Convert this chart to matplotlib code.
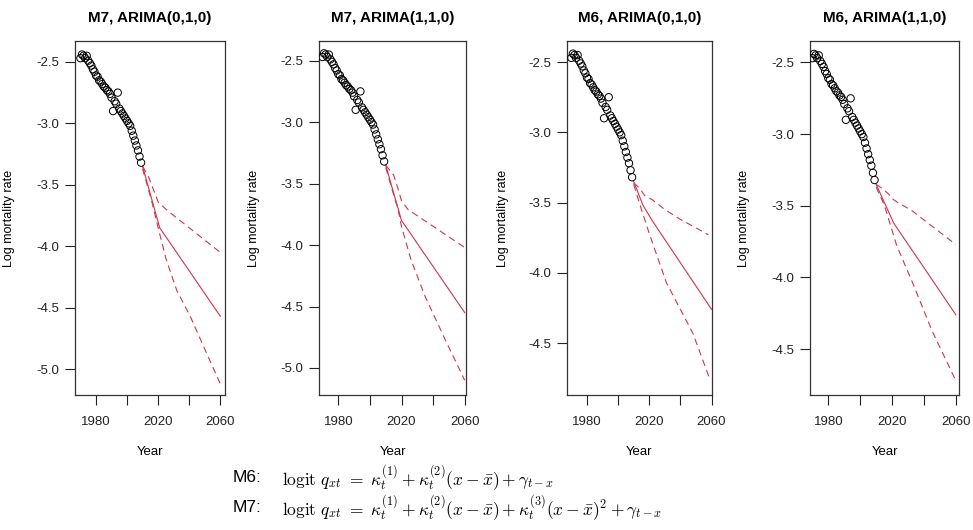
import matplotlib
matplotlib.use("Agg")
import matplotlib.pyplot as plt

# observed log mortality rates
obs_years = list(range(1970, 2010))
obs_rates = [-2.47, -2.44, -2.45, -2.47, -2.45, -2.49, -2.51, -2.53, -2.56, -2.58,
             -2.61, -2.62, -2.65, -2.66, -2.68, -2.70, -2.71, -2.73, -2.74, -2.76,
             -2.79, -2.90, -2.82, -2.84, -2.75, -2.88, -2.90, -2.92, -2.94, -2.96,
             -2.98, -3.00, -3.02, -3.06, -3.10, -3.14, -3.18, -3.22, -3.27, -3.32]

titles = ["M7, ARIMA(0,1,0)", "M7, ARIMA(1,1,0)", "M6, ARIMA(0,1,0)", "M6, ARIMA(1,1,0)"]

# forecasts: central (solid) and interval bounds (dashed)
central_years = [
    [2010, 2021, 2040, 2060],
    [2010, 2020, 2060],
    [2010, 2016, 2022, 2060],
    [2010, 2021, 2060],
]
central_rates = [
    [-3.35, -3.85, -4.20, -4.57],
    [-3.35, -3.80, -4.55],
    [-3.35, -3.52, -3.63, -4.26],
    [-3.35, -3.62, -4.26],
]
upper_years = [
    [2010, 2014, 2020, 2026, 2060],
    [2010, 2015, 2018, 2020, 2024, 2060],
    [2010, 2014, 2017, 2022, 2030, 2040, 2050, 2058],
    [2010, 2014, 2018, 2020, 2024, 2032, 2046, 2060],
]
upper_rates = [
    [-3.35, -3.44, -3.64, -3.71, -4.05],
    [-3.35, -3.43, -3.55, -3.64, -3.71, -4.02],
    [-3.36, -3.40, -3.45, -3.48, -3.55, -3.62, -3.68, -3.73],
    [-3.35, -3.38, -3.42, -3.45, -3.48, -3.53, -3.65, -3.77],
]
lower_years = [
    [2010, 2016, 2020, 2025, 2032, 2041, 2048, 2060],
    [2010, 2018, 2020, 2026, 2035, 2048, 2060],
    [2010, 2015, 2020, 2031, 2048, 2059],
    [2010, 2015, 2018, 2023, 2033, 2045, 2060],
]
lower_rates = [
    [-3.37, -3.64, -3.85, -4.10, -4.36, -4.58, -4.78, -5.12],
    [-3.37, -3.72, -3.85, -4.12, -4.42, -4.78, -5.10],
    [-3.37, -3.55, -3.72, -4.07, -4.43, -4.76],
    [-3.37, -3.49, -3.60, -3.78, -4.04, -4.37, -4.72],
]

x_ticks = [1980, 2000, 2020, 2040, 2060]
x_tick_labels = ["1980", "", "2020", "", "2060"]
y_ticks = [
    [-2.5, -3.0, -3.5, -4.0, -4.5, -5.0],
    [-2.5, -3.0, -3.5, -4.0, -4.5, -5.0],
    [-2.5, -3.0, -3.5, -4.0, -4.5],
    [-2.5, -3.0, -3.5, -4.0, -4.5],
]
y_limits = [(-5.21, -2.33), (-5.22, -2.34), (-4.87, -2.35), (-4.82, -2.35)]
x_limits = [(1966.5, 2063.0), (1967.8, 2060.8), (1967.2, 2060.3), (1968.5, 2062.0)]

plt.rcParams['font.family'] = ['Liberation Sans', 'DejaVu Sans']
plt.rcParams['mathtext.fontset'] = 'cm'

fig = plt.figure(figsize=(9.73, 5.30), dpi=100)

lefts = [75, 319, 567, 810]
widths = [150, 147, 145, 149]
top_px, bottom_px = 41, 395
W, H = 973, 530

red = '#d0344e'

for i in range(4):
    ax = fig.add_axes([lefts[i] / W, 1 - bottom_px / H, widths[i] / W, (bottom_px - top_px) / H])
    ax.scatter(obs_years, obs_rates, s=28, facecolors='none', edgecolors='black', linewidths=0.7, zorder=3)
    ax.plot(central_years[i], central_rates[i], color=red, lw=0.8)
    ax.plot(upper_years[i], upper_rates[i], color=red, lw=0.8, linestyle=(0, (6, 4)))
    ax.plot(lower_years[i], lower_rates[i], color=red, lw=0.8, linestyle=(0, (6, 4)))
    ax.set_xlim(x_limits[i])
    ax.set_ylim(y_limits[i])
    ax.set_xticks(x_ticks)
    ax.set_xticklabels(x_tick_labels)
    ax.set_yticks(y_ticks[i])
    ax.set_yticklabels([f"{v:.1f}" for v in y_ticks[i]])
    ax.tick_params(direction='out', length=7, width=0.8, labelsize=9.5, colors='#222222', pad=4)
    ax.tick_params(axis='x', pad=8)
    for sp in ax.spines.values():
        sp.set_linewidth(0.9)
        sp.set_color('#333333')
    ax.set_title(titles[i], fontsize=11, fontweight='bold', pad=14)
    ax.set_ylabel("Log mortality rate", fontsize=9)
    ax.yaxis.set_label_coords(-0.40, 0.5)
    ax.set_xlabel("Year", fontsize=9.5)
    ax.xaxis.set_label_coords(0.5, -0.145)

eq6 = r'$\mathrm{logit}\ q_{xt}\ =\ \kappa_t^{(1)}+\kappa_t^{(2)}(x-\bar{x})+\gamma_{t-x}$'
eq7 = r'$\mathrm{logit}\ q_{xt}\ =\ \kappa_t^{(1)}+\kappa_t^{(2)}(x-\bar{x})+\kappa_t^{(3)}(x-\bar{x})^2+\gamma_{t-x}$'
fig.text(233 / W, 1 - 478 / H, "M6:", fontsize=12.5, va='center')
fig.text(233 / W, 1 - 508 / H, "M7:", fontsize=12.5, va='center')
fig.text(282 / W, 1 - 478 / H, eq6, fontsize=12.5, va='center')
fig.text(282 / W, 1 - 508 / H, eq7, fontsize=12.5, va='center')

fig.savefig("out.png", dpi=100)
